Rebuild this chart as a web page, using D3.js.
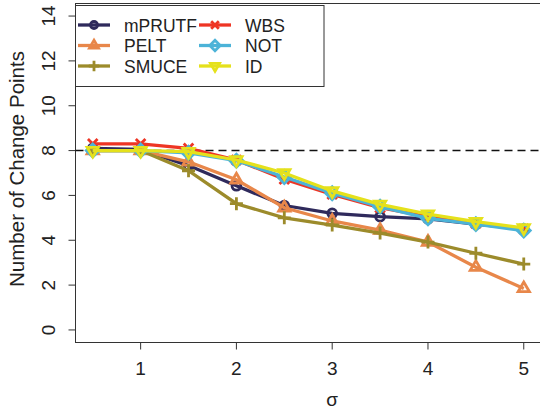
<!DOCTYPE html>
<html><head><meta charset="utf-8">
<script src="https://cdn.jsdelivr.net/npm/d3@7"></script>
<style>body{margin:0;background:#fff}svg{display:block}text{font-family:"Liberation Sans",Arial,sans-serif}</style>
</head><body><svg id="c" width="540" height="412"></svg>
<script>
const sigma = [0.5,1,1.5,2,2.5,3,3.5,4,4.5,5];
const seriesNames = ["mPRUTF","PELT","SMUCE","WBS","NOT","ID"];
const mPRUTF = [8.1,8.05,7.33,6.43,5.55,5.2,5.05,4.95,4.72,4.5];
const PELT   = [8.0,8.0,7.5,6.7,5.45,4.86,4.45,3.92,2.8,1.85];
const SMUCE  = [8.0,8.0,7.1,5.63,5.0,4.68,4.32,3.92,3.42,2.94];
const WBS    = [8.3,8.3,8.1,7.58,6.72,6.05,5.45,5.05,4.75,4.5];
const NOT    = [8.0,8.0,7.9,7.55,6.82,6.1,5.5,4.98,4.72,4.43];
const ID     = [8.0,8.0,7.95,7.58,7.0,6.2,5.6,5.17,4.83,4.55];
const xTicks = [1,2,3,4,5];
const yTicks = [0,2,4,6,8,10,12,14];
const truth = 8;
const colors = ["#2f2a5c","#e8874a","#9c8b2b","#ee3524","#4cb3d8","#e5e11c"];
const shapes = ["circle","tri","plus","x","diamond","itri"];
const data = [mPRUTF,PELT,SMUCE,WBS,NOT,ID];

const svg = d3.select("#c");
const L=75.5, R=541, T=3.5, B=342.5;
const x = d3.scaleLinear().domain([0.5-0.18,5+0.18]).range([L,R]);
const y = d3.scaleLinear().domain([-0.56,14.56]).range([B,T]);
const FS = 19;

// box
svg.append("rect").attr("x",L).attr("y",T).attr("width",R-L).attr("height",B-T)
  .attr("fill","none").attr("stroke","#333").attr("stroke-width",1);

// y axis
const ya = svg.append("g");
yTicks.forEach(v=>{
  ya.append("line").attr("x1",L-7).attr("x2",L).attr("y1",y(v)).attr("y2",y(v)).attr("stroke","#333");
  ya.append("text").attr("transform",`translate(${L-21},${y(v)}) rotate(-90)`)
    .attr("text-anchor","middle").attr("font-size",FS).attr("fill","#222").text(v);
});
svg.append("text").attr("transform",`translate(24,${(T+B)/2-4}) rotate(-90)`)
  .attr("text-anchor","middle").attr("font-size",20.5).attr("fill","#222").text("Number of Change Points");

// x axis
xTicks.forEach(v=>{
  svg.append("line").attr("x1",x(v)).attr("x2",x(v)).attr("y1",B).attr("y2",B+7).attr("stroke","#333");
  svg.append("text").attr("x",x(v)).attr("y",B+32).attr("text-anchor","middle").attr("font-size",FS).attr("fill","#222").text(v);
});
svg.append("text").attr("x",(x(3))).attr("y",406).attr("text-anchor","middle").attr("font-size",FS).attr("fill","#222").text("σ");

// dashed truth line
svg.append("line").attr("x1",L).attr("x2",R).attr("y1",y(truth)).attr("y2",y(truth))
  .attr("stroke","#111").attr("stroke-width",1.5).attr("stroke-dasharray","8,5");

function marker(g, shape, cx, cy, col, s){
  s = s||1;
  const sw = 2.8;
  if(shape==="circle") g.append("circle").attr("cx",cx).attr("cy",cy).attr("r",4.4*s).attr("fill","none").attr("stroke",col).attr("stroke-width",sw);
  else if(shape==="tri"){ const r=6.5*s; g.append("path").attr("d",`M${cx},${cy-r}L${cx+r*0.87},${cy+r*0.5}L${cx-r*0.87},${cy+r*0.5}Z`).attr("fill","none").attr("stroke",col).attr("stroke-width",sw);}
  else if(shape==="itri"){ const r=6.5*s; g.append("path").attr("d",`M${cx},${cy+r}L${cx+r*0.87},${cy-r*0.5}L${cx-r*0.87},${cy-r*0.5}Z`).attr("fill","none").attr("stroke",col).attr("stroke-width",sw);}
  else if(shape==="plus"){ const r=6.5*s; g.append("path").attr("d",`M${cx-r},${cy}H${cx+r}M${cx},${cy-r}V${cy+r}`).attr("stroke",col).attr("stroke-width",sw);}
  else if(shape==="x"){ const r=4.8*s; g.append("path").attr("d",`M${cx-r},${cy-r}L${cx+r},${cy+r}M${cx-r},${cy+r}L${cx+r},${cy-r}`).attr("stroke",col).attr("stroke-width",sw);}
  else if(shape==="diamond"){ const r=6.5*s; g.append("path").attr("d",`M${cx},${cy-r}L${cx+r},${cy}L${cx},${cy+r}L${cx-r},${cy}Z`).attr("fill","none").attr("stroke",col).attr("stroke-width",sw);}
}

const line = d3.line().x((d,i)=>x(sigma[i])).y(d=>y(d));
data.forEach((vals,k)=>{
  const g = svg.append("g");
  g.append("path").attr("d",line(vals)).attr("fill","none").attr("stroke",colors[k]).attr("stroke-width",3.3);
  vals.forEach((v,i)=>marker(g,shapes[k],x(sigma[i]),y(v),colors[k]));
});

// legend
const lg = svg.append("g");
lg.append("rect").attr("x",L).attr("y",5.5).attr("width",324-L).attr("height",81)
  .attr("fill","#fff").attr("stroke","#333").attr("stroke-width",1);
seriesNames.forEach((n,k)=>{
  const col = Math.floor(k/3), row = k%3;
  const lx = col? 199:78, ly = 25+row*20.5;
  lg.append("line").attr("x1",lx).attr("x2",lx+32).attr("y1",ly).attr("y2",ly).attr("stroke",colors[k]).attr("stroke-width",3.3);
  marker(lg,shapes[k],lx+16,ly,colors[k],0.8);
  lg.append("text").attr("x",lx+46).attr("y",ly+6.5).attr("font-size",17.5).attr("fill","#222").text(n);
});
</script></body></html>
